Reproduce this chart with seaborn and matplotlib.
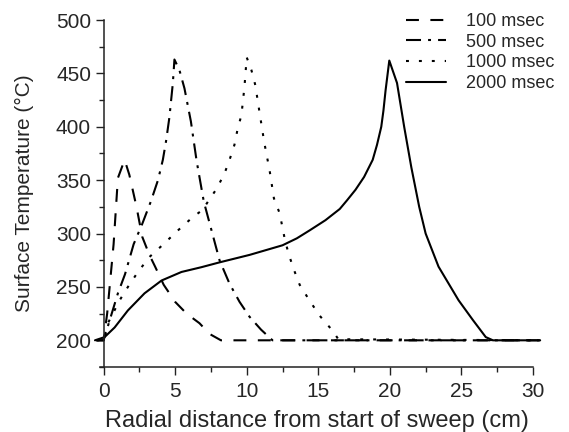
import numpy as np
import pandas as pd
import matplotlib
matplotlib.use("Agg")
import matplotlib.pyplot as plt
from matplotlib.ticker import MultipleLocator
import seaborn as sns

sns.set_style("ticks")
plt.rcParams['font.family'] = ['Liberation Sans', 'DejaVu Sans']

labels = ["100 msec", "500 msec", "1000 msec", "2000 msec"]

x_100 = [-0.5, 0.0, 0.25, 0.7, 1.0, 1.47, 1.8, 2.3, 2.7, 3.2, 3.6, 4.2, 5.0, 5.8, 6.7, 7.4, 8.2, 30.5]
t_100 = [200, 200, 225, 290, 352, 369, 355, 325, 297, 280, 269, 252, 236, 225, 216, 206, 200, 200]

x_500 = [-0.5, 0.0, 0.5, 1.0, 1.5, 2.1, 2.7, 3.3, 3.8, 4.14, 4.37, 4.6, 4.84, 4.95, 5.3, 5.65, 6.1, 6.5, 7.0,
         7.5, 8.1, 8.8, 9.5, 10.2, 11.0, 11.8, 30.5]
t_500 = [200, 200, 222, 244, 262, 290, 309, 330, 350, 369, 387, 409, 441, 463, 453, 436, 405, 368, 330,
         305, 275, 253, 236, 222, 210, 200, 200]

x_1000 = [-0.5, 0.0, 0.3, 0.65, 1.1, 1.7, 2.4, 3.2, 4.1, 5.2, 6.2, 6.9, 7.9, 8.44, 8.8, 9.14, 9.35, 9.63,
          9.84, 10.0, 10.33, 10.6, 10.9, 11.23, 11.6, 11.9, 12.3, 12.7, 13.0, 13.3, 13.7, 14.4, 15.1, 16.0,
          16.4, 30.5]
t_1000 = [200, 200, 216, 225, 237, 250, 264, 278, 289, 303, 315, 322, 342, 356, 369, 383, 397, 411,
          437, 465, 453, 439, 413, 385, 359, 333, 319, 292, 278, 266, 252, 237, 223, 209,
          201, 200]

x_2000 = [-0.6, 0.07, 0.77, 1.7, 2.86, 4.05, 5.44, 6.84, 8.1, 10.2, 12.5, 13.5, 14.4, 15.5, 16.5, 17.0,
          17.6, 18.2, 18.8, 19.1, 19.4, 19.55, 19.7, 19.96, 20.5, 21.0, 21.5, 22.05, 22.5, 23.4, 24.8,
          25.8, 26.7, 27.2, 30.5]
t_2000 = [200, 203, 212, 228, 244, 256, 264, 268.5, 273, 280, 289, 295.5, 303, 312.5, 323, 331,
          341, 353, 369, 383, 400, 415, 434, 462, 441, 400, 362, 325, 300, 269, 237.5,
          219, 203, 200, 200]

series = [(x_100, t_100), (x_500, t_500), (x_1000, t_1000), (x_2000, t_2000)]
styles = [(0, (6.2, 5.5)), (0, (7.2, 3.4, 1.4, 3.4)), (0, (1.4, 4.8)), '-']

fig = plt.figure(figsize=(5.69, 4.32), dpi=100)
ax = fig.add_axes([100 / 569, 1 - 367 / 432, 433 / 569, 347 / 432])

for (xs, ts), lab, ls in zip(series, labels, styles):
    df = pd.DataFrame({"x": xs, "T": ts})
    sns.lineplot(data=df, x="x", y="T", ax=ax, color="black", lw=1.5, linestyle=ls,
                 label=lab, clip_on=False, sort=False, estimator=None)

ax.set_xlim(-0.25, 30)
ax.set_ylim(175, 500)
sns.despine(ax=ax)
ax.spines['left'].set_position(('data', 0))
ax.xaxis.set_major_locator(MultipleLocator(5))
ax.xaxis.set_minor_locator(MultipleLocator(2.5))
ax.set_yticks([200, 250, 300, 350, 400, 450, 500])
ax.yaxis.set_minor_locator(MultipleLocator(25))
ax.tick_params(axis='both', which='major', direction='out', length=6, width=1, labelsize=15,
               color='#222222', pad=3)
ax.tick_params(axis='x', which='major', pad=5)
ax.tick_params(axis='both', which='minor', direction='out', length=3.5, width=1, color='#222222')
for s in ['left', 'bottom']:
    ax.spines[s].set_linewidth(1.1)
    ax.spines[s].set_color('#222222')

ax.set_xlabel("Radial distance from start of sweep (cm)", fontsize=17, labelpad=6)
ax.set_ylabel("Surface Temperature (°C)", fontsize=15, labelpad=16)

leg = ax.legend(loc='upper left', bbox_to_anchor=(406 / 569, 1 - 13 / 432), bbox_transform=fig.transFigure,
                frameon=False, fontsize=13, handlelength=2.2, handletextpad=1.1, labelspacing=0.2,
                borderpad=0, borderaxespad=0)

fig.savefig("out.png", dpi=100)
